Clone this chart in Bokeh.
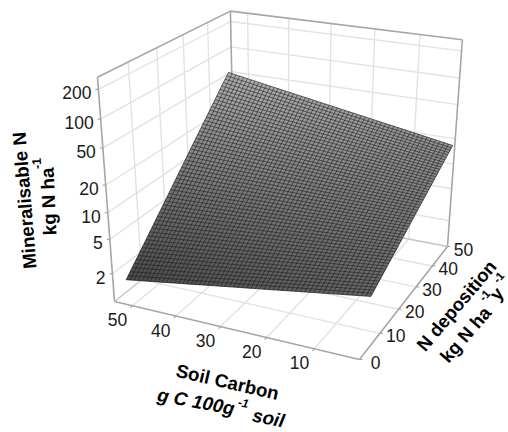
import numpy as np
from bokeh.plotting import figure
from bokeh.models import Range1d
from bokeh.core.properties import value
from bokeh.embed import file_html
from bokeh.resources import INLINE

# ---- data ----
carbon_ticks = [50, 40, 30, 20, 10]
nitrogen_ticks = [0, 10, 20, 30, 40, 50]
z_ticks = [200, 100, 50, 20, 10, 5, 2]
surface_carbon = [0.85, 11.5, 22.2, 32.9, 43.6, 54.25]
surface_nitrogen = [4.5, 13.3, 22.1, 30.9, 39.7, 48.5]
# rows follow surface_carbon, columns follow surface_nitrogen
surface_z = [
    [3.50, 4.84, 6.71, 9.29, 12.9, 17.8],
    [2.87, 4.31, 6.49, 9.75, 14.7, 22.1],
    [2.35, 3.84, 6.27, 10.2, 16.7, 27.3],
    [1.93, 3.42, 6.07, 10.8, 19.1, 33.8],
    [1.58, 3.05, 5.86, 11.3, 21.7, 41.8],
    [1.30, 2.71, 5.67, 11.9, 24.8, 51.8],
]
MESH_CELLS = 56

# ---- projection of the 3-D box onto the page ----
def ax_c(C): return (np.asarray(C, float) - 0.85) / 53.4
def ax_n(N): return np.asarray(N, float) / 50.0
def ax_z(z): return 0.0117 + 0.408 * np.log10(np.asarray(z, float))

def proj(a, b, c):
    a, b, c = np.asarray(a, float), np.asarray(b, float), np.asarray(c, float)
    d = 1 + 0.091 * a + 0.2015 * b - 0.1 * c
    x = (359 - 234.6 * a + 178.07 * b - 28.3 * c) / d
    y = (359 - 30.61 * a - 63.43 * b - 252.3 * c) / d
    return x, y

def seg(a0, b0, c0, a1, b1, c1):
    x0, y0 = proj(a0, b0, c0)
    x1, y1 = proj(a1, b1, c1)
    return [float(x0), float(x1)], [float(y0), float(y1)]

p = figure(width=508, height=432, x_range=Range1d(0, 508), y_range=Range1d(432, 0),
           toolbar_location=None, output_backend="svg", min_border=0)
p.axis.visible = False
p.grid.visible = False
p.outline_line_color = None
p.background_fill_color = "white"

# grid on floor and walls
gx, gy = [], []
def add(*s):
    x, y = seg(*s)
    gx.append(x); gy.append(y)
for C in carbon_ticks:
    a = float(ax_c(C))
    add(a, 0, 0, a, 1, 0)
    add(a, 1, 0, a, 1, 1)
for N in nitrogen_ticks[1:-1]:
    b = float(ax_n(N))
    add(0, b, 0, 1, b, 0)
    add(1, b, 0, 1, b, 1)
for z in z_ticks:
    c = float(ax_z(z))
    add(1, 0, c, 1, 1, c)
    add(1, 1, c, 0, 1, c)
p.multi_line(gx, gy, line_color="#e2e2e2", line_width=1.4)

# box edges
ex, ey = [], []
for s in [(1, 0, 0, 1, 0, 1), (1, 0, 1, 1, 1, 1), (1, 1, 1, 1, 1, 0), (1, 1, 1, 0, 1, 1),
          (0, 1, 1, 0, 1, 0), (1, 0, 0, 0, 0, 0), (0, 0, 0, 0, 1, 0)]:
    x, y = seg(*s)
    ex.append(x); ey.append(y)
p.multi_line(ex, ey, line_color="#a6a6a6", line_width=1.6)
fx, fy = [], []
for s in [(1, 0, 0, 1, 1, 0), (1, 1, 0, 0, 1, 0)]:
    x, y = seg(*s)
    fx.append(x); fy.append(y)
p.multi_line(fx, fy, line_color="#c4c4c4", line_width=1.4)

# tick marks
tx, ty = [], []
for C in carbon_ticks:
    x, y = proj(ax_c(C), 0, 0)
    tx.append([float(x), float(x) - 2]); ty.append([float(y), float(y) + 2])
for N in nitrogen_ticks:
    x, y = proj(0, ax_n(N), 0)
    tx.append([float(x), float(x) + 3]); ty.append([float(y), float(y)])
for z in z_ticks:
    x, y = proj(1, 0, ax_z(z))
    tx.append([float(x), float(x) - 3]); ty.append([float(y), float(y)])
p.multi_line(tx, ty, line_color="#a6a6a6", line_width=1.2)

# surface: the mesh is drawn over the table of read values
table = np.log10(np.array(surface_z, float))
Cm = np.linspace(surface_carbon[0], surface_carbon[-1], MESH_CELLS + 1)
Nm = np.linspace(surface_nitrogen[0], surface_nitrogen[-1], MESH_CELLS + 1)
along_n = np.array([np.interp(Nm, surface_nitrogen, row) for row in table])
logz = np.array([np.interp(Cm, surface_carbon, along_n[:, j]) for j in range(len(Nm))])
A, B = np.meshgrid(ax_c(Cm), ax_n(Nm))
Cz = ax_z(10 ** logz)
X, Y = proj(A, B, Cz)

xs, ys, cols = [], [], []
for i in range(MESH_CELLS):
    for j in range(MESH_CELLS):
        xs.append([X[i, j], X[i, j + 1], X[i + 1, j + 1], X[i + 1, j]])
        ys.append([Y[i, j], Y[i, j + 1], Y[i + 1, j + 1], Y[i + 1, j]])
        cm = (Cz[i, j] + Cz[i + 1, j + 1]) / 2
        g = int(round(0x4a + (0xb0 - 0x4a) * np.clip((cm - 0.06) / 0.66, 0, 1)))
        cols.append(f"#{g:02x}{g:02x}{g:02x}")
p.patches(xs, ys, fill_color=cols, line_color=cols, line_width=0.5)

mx = [list(X[i, :]) for i in range(MESH_CELLS + 1)] + [list(X[:, j]) for j in range(MESH_CELLS + 1)]
my = [list(Y[i, :]) for i in range(MESH_CELLS + 1)] + [list(Y[:, j]) for j in range(MESH_CELLS + 1)]
p.multi_line(mx, my, line_color="#111111", line_alpha=0.55, line_width=1.0)

FONT = value("Liberation Sans")
def label(x, y, txt, size=17.5, angle=0.0, align="center", base="middle", style="normal", color="#1a1a1a"):
    p.text([x], [y], text=[txt], text_font=FONT, text_font_size=f"{size}px", angle=np.deg2rad(angle),
           text_align=align, text_baseline=base, text_font_style=style, text_color=color)

for C in carbon_ticks:
    x, y = proj(ax_c(C), 0, 0)
    label(float(x) - 15, float(y) + 14, str(C))
for N in nitrogen_ticks:
    x, y = proj(0, ax_n(N), 0)
    label(float(x) + 16, float(y) + 2.5, str(N))
for z in z_ticks:
    x, y = proj(1, 0, ax_z(z))
    label(float(x) - 7, float(y) + 3.5, str(z), align="right")

BOLD = dict(style="bold", color="black")
ITAL = dict(style="bold italic", color="black")
label(24, 200, "Mineralisable N", size=18.7, angle=94.7, **BOLD)
label(48, 201, "kg N ha", size=18.7, angle=92.6, **BOLD)
label(36, 163, "-1", size=12.5, angle=92.6, **BOLD)

label(227, 381.5, "Soil Carbon", size=18.7, angle=-13, **BOLD)
label(195.5, 401, "g C 100g", size=18.7, angle=-10.5, **ITAL)
label(243, 402, "-1", size=12, angle=-11, **ITAL)
label(268, 417.5, "soil", size=18.7, angle=-11, **ITAL)

label(456, 305, "N deposition", size=18.5, angle=49.7, **BOLD)
label(465, 334, "kg N ha", size=18.5, angle=49, **BOLD)
label(484, 295, "-1", size=11.5, angle=49, **BOLD)
label(496, 293, "y", size=18.5, angle=49, **BOLD)
label(498, 277, "-1", size=11.5, angle=49, **BOLD)

open("out.html", "w").write(file_html(p, INLINE))
